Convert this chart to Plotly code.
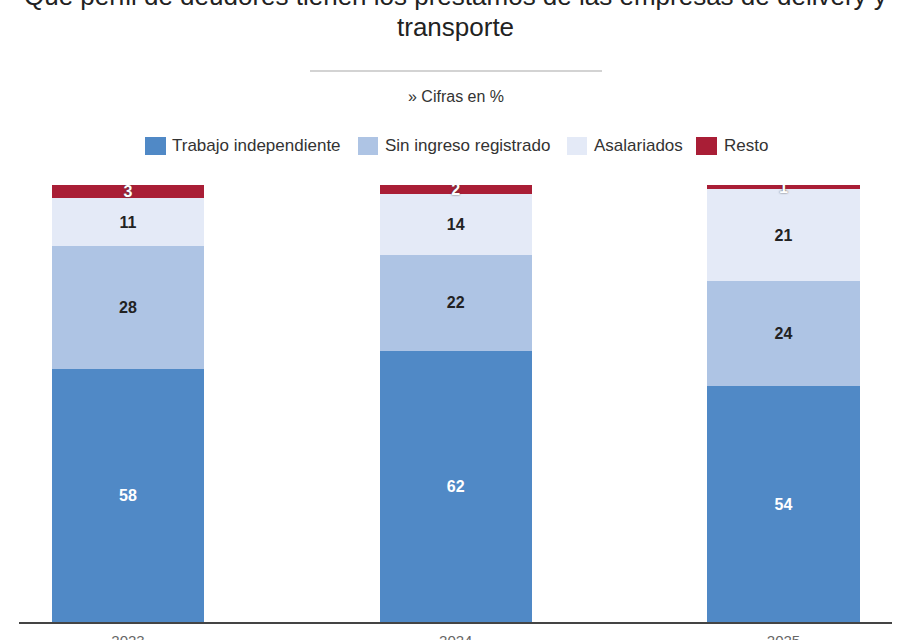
import plotly.graph_objects as go

# ---- data ----
years = ["2023", "2024", "2025"]
x_pos = [0, 1, 2]
trabajo = [58, 62, 54]
sin_ingreso = [28, 22, 24]
asalariados = [11, 14, 21]
resto = [3, 2, 1]

series_names = ["Trabajo independiente", "Sin ingreso registrado", "Asalariados", "Resto"]
series_vals = [trabajo, sin_ingreso, asalariados, resto]
colors = ["#5089c6", "#aec4e4", "#e4eaf7", "#a91e36"]
text_colors = ["#ffffff", "#222222", "#222222", "#ffffff"]

title_line1 = "Qué perfil de deudores tienen los préstamos de las empresas de delivery y"
title_line2 = "transporte"
subtitle = "» Cifras en %"

# ---- layout geometry (pixels) ----
W, H = 923, 640
L, R, T, B = 19, 892, 185, 622
PW, PH = R - L, B - T


def px2x(px):
    return (px - L) / PW


def py2y(py):
    return (B - py) / PH


FONT = "Liberation Sans, Arial, sans-serif"

fig = go.Figure()
for name, vals, col, tcol in zip(series_names, series_vals, colors, text_colors):
    fig.add_trace(go.Bar(
        x=x_pos, y=vals, name=name,
        marker=dict(color=col, line=dict(width=0)),
        width=0.464,
        text=[str(v) for v in vals],
        textposition="inside",
        insidetextanchor="middle",
        constraintext="none",
        textangle=0,
        textfont=dict(family=FONT, size=16, color=tcol, weight="bold",
                      shadow=("0px 0px 2px #444" if name == "Resto" else "none")),
        showlegend=False,
        hoverinfo="skip",
    ))

shapes = []
annotations = []

# title
annotations.append(dict(text=title_line1, x=0.5, y=py2y(-4), xref="paper", yref="paper",
                        xanchor="center", yanchor="middle", showarrow=False,
                        font=dict(family=FONT, size=26, color="#222222")))
annotations.append(dict(text=title_line2, x=0.5, y=py2y(27), xref="paper", yref="paper",
                        xanchor="center", yanchor="middle", showarrow=False,
                        font=dict(family=FONT, size=26, color="#222222")))

# separator line and subtitle
shapes.append(dict(type="line", xref="paper", yref="paper",
                   x0=px2x(310), x1=px2x(602), y0=py2y(71), y1=py2y(71),
                   line=dict(color="#c4c4c4", width=1.5)))
annotations.append(dict(text=subtitle, x=0.5, y=py2y(97), xref="paper", yref="paper",
                        xanchor="center", yanchor="middle", showarrow=False,
                        font=dict(family=FONT, size=16, color="#333333")))

# custom legend
legend_sq = [(145, 166), (358, 378), (567, 587), (696, 717)]
legend_txt_x = [170, 383, 592, 722]
for (x0, x1), tx, name, col in zip(legend_sq, legend_txt_x, series_names, colors):
    shapes.append(dict(type="rect", xref="paper", yref="paper",
                       x0=px2x(x0), x1=px2x(x1), y0=py2y(155), y1=py2y(137),
                       fillcolor=col, line=dict(width=0)))
    annotations.append(dict(text=name, x=px2x(tx), y=py2y(145), xref="paper", yref="paper",
                            xanchor="left", yanchor="middle", showarrow=False,
                            font=dict(family=FONT, size=17, color="#333333")))

fig.update_layout(
    width=W, height=H,
    margin=dict(l=L, r=W - R, t=T, b=H - B, pad=0, autoexpand=False),
    barmode="stack",
    paper_bgcolor="white", plot_bgcolor="white",
    shapes=shapes, annotations=annotations,
    showlegend=False,
    xaxis=dict(range=[(L - 128) / 327.75, (R - 128) / 327.75],
               tickvals=x_pos, ticktext=years,
               showgrid=False, zeroline=False, automargin=False,
               showline=True, linecolor="#444444", linewidth=2,
               ticks="", ticklabelstandoff=4,
               tickfont=dict(family=FONT, size=15, color="#666666"),
               fixedrange=True),
    yaxis=dict(range=[0, 100], visible=False, showgrid=False, zeroline=False,
               automargin=False, fixedrange=True),
)

fig.write_html("out.html", config={"displayModeBar": False})
